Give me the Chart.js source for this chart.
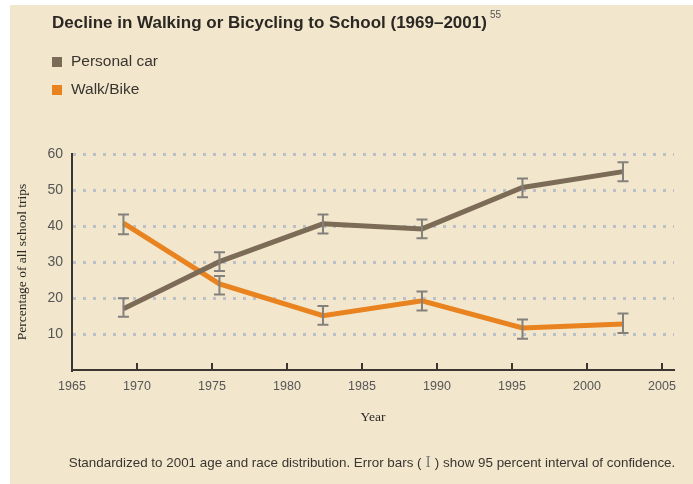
<!DOCTYPE html>
<html>
<head>
<meta charset="utf-8">
<script src="https://cdn.jsdelivr.net/npm/chart.js@4.4.1/dist/chart.umd.min.js"></script>
<style>
  html, body { margin: 0; padding: 0; background: #ffffff; }
  #wrap { width: 693px; height: 484px; }
</style>
</head>
<body>
<div id="wrap"><canvas id="line-graph" width="693" height="484"></canvas></div>
<script>
// survey years as placed on the chart
const years = [1969.1, 1975.5, 1982.4, 1989.0, 1995.7, 2002.4];

const carValues = [17.0, 30.1, 40.6, 39.2, 50.7, 55.1];
const carLow = [14.8, 27.5, 37.9, 36.6, 48.0, 52.4];
const carHigh = [19.9, 32.7, 43.2, 41.8, 53.2, 57.7];

const walkValues = [40.8, 23.9, 15.1, 19.2, 11.7, 12.8];
const walkLow = [37.7, 21.0, 12.6, 16.5, 8.7, 10.3];
const walkHigh = [43.2, 26.1, 17.8, 21.8, 14.0, 15.7];

const xTickYears = [1970, 1975, 1980, 1985, 1990, 1995, 2000, 2005];
const yTickValues = [10, 20, 30, 40, 50, 60];

const seriesNames = ['Personal car', 'Walk/Bike'];

const titleText = 'Decline in Walking or Bicycling to School (1969\u20132001)';
const noteText = 'Standardized to 2001 age and race distribution. Error bars (';
const noteText2 = ') show 95 percent interval of confidence.';

const xMin = 1965.67;
const xMax = 2005.8;

const CAR = '#7b6b57';
const WALK = '#e8831f';
const BG = '#f2e7cd';
const AXIS = '#3b3631';
const DOTS = '#b9c0c8';

const toPoints = (vals) => vals.map((v, i) => ({ x: years[i], y: v }));

const backgroundPlugin = {
  id: 'panel',
  beforeDraw(chart) {
    const ctx = chart.ctx;
    ctx.save();
    ctx.fillStyle = '#ffffff';
    ctx.fillRect(0, 0, chart.width, chart.height);
    ctx.fillStyle = BG;
    ctx.fillRect(10, 5, chart.width - 10, chart.height - 5);
    ctx.restore();
  }
};

const decorPlugin = {
  id: 'decor',
  afterDraw(chart) {
    const ctx = chart.ctx;
    const x = chart.scales.x;
    const y = chart.scales.y;
    ctx.save();

    // inward ticks on the year axis
    ctx.strokeStyle = AXIS;
    ctx.lineWidth = 2;
    xTickYears.forEach((yr) => {
      const px = Math.round(x.getPixelForValue(yr));
      ctx.beginPath();
      ctx.moveTo(px, y.bottom);
      ctx.lineTo(px, y.bottom - 7);
      ctx.stroke();
    });

    // title
    ctx.fillStyle = '#2b2723';
    ctx.textBaseline = 'middle';
    ctx.textAlign = 'left';
    ctx.font = 'bold 17px "Liberation Sans", Arial, sans-serif';
    ctx.fillText(titleText, 52, 23);
    const tw = ctx.measureText(titleText).width;
    ctx.fillStyle = '#555';
    ctx.font = '10px "Liberation Sans", Arial, sans-serif';
    ctx.fillText('55', 52 + tw + 3, 15);

    // legend
    const colors = [CAR, WALK];
    ctx.font = '15.5px "Liberation Sans", Arial, sans-serif';
    seriesNames.forEach((name, i) => {
      const cy = 62 + i * 28;
      ctx.fillStyle = colors[i];
      ctx.fillRect(52, cy - 5, 10, 10);
      ctx.fillStyle = '#3a3530';
      ctx.fillText(name, 71, cy);
    });

    // footnote
    const noteFont = '13.4px "Liberation Sans", Arial, sans-serif';
    const beamFont = '16px "Liberation Serif", serif';
    ctx.font = noteFont;
    ctx.fillStyle = '#3a3530';
    const w1 = ctx.measureText(noteText).width;
    const w2 = ctx.measureText(noteText2).width;
    ctx.font = beamFont;
    const wi = ctx.measureText(' I ').width;
    const total = w1 + wi + w2;
    const sx = 372 - total / 2;
    ctx.font = noteFont;
    ctx.fillText(noteText, sx, 463);
    ctx.font = beamFont;
    ctx.fillStyle = '#7d7d7d';
    ctx.fillText(' I ', sx + w1, 463);
    ctx.font = noteFont;
    ctx.fillStyle = '#3a3530';
    ctx.fillText(noteText2, sx + w1 + wi, 463);

    ctx.restore();
  }
};

const errorBarPlugin = {
  id: 'errorBars',
  afterDatasetsDraw(chart) {
    const ctx = chart.ctx;
    const x = chart.scales.x;
    const y = chart.scales.y;
    const sets = [[carLow, carHigh], [walkLow, walkHigh]];
    ctx.save();
    ctx.strokeStyle = '#84817d';
    ctx.lineWidth = 2;
    sets.forEach(([lo, hi]) => {
      years.forEach((yr, i) => {
        const px = x.getPixelForValue(yr);
        const top = y.getPixelForValue(hi[i]);
        const bot = y.getPixelForValue(lo[i]);
        ctx.beginPath();
        ctx.moveTo(px, top);
        ctx.lineTo(px, bot);
        ctx.moveTo(px - 5.5, top);
        ctx.lineTo(px + 5.5, top);
        ctx.moveTo(px - 5.5, bot);
        ctx.lineTo(px + 5.5, bot);
        ctx.stroke();
      });
    });
    ctx.restore();
  }
};

const ctx = document.getElementById('line-graph').getContext('2d');

const chart = new Chart(ctx, {
  type: 'line',
  data: {
    datasets: [{
      label: seriesNames[0],
      data: toPoints(carValues),
      borderColor: CAR,
      borderWidth: 5,
      pointRadius: 0,
      tension: 0,
    }, {
      label: seriesNames[1],
      data: toPoints(walkValues),
      borderColor: WALK,
      borderWidth: 5,
      pointRadius: 0,
      tension: 0,
    }]
  },
  options: {
    responsive: false,
    animation: false,
    layout: { padding: { top: 154, left: 0, right: 19, bottom: 54 } },
    plugins: {
      legend: { display: false },
      tooltip: { enabled: false },
    },
    scales: {
      x: {
        type: 'linear',
        min: xMin,
        max: xMax,
        afterFit: (scale) => { scale.height = 60; },
        afterBuildTicks: (scale) => {
          scale.ticks = [{ value: xMin }].concat(xTickYears.map((v) => ({ value: v })));
        },
        grid: { display: false, drawTicks: false },
        border: { display: true, color: AXIS, width: 2 },
        ticks: {
          autoSkip: false,
          maxRotation: 0,
          padding: 9,
          color: '#555',
          font: { family: '"Liberation Sans", Arial, sans-serif', size: 12.5 },
          callback: (v) => (v === xMin ? '1965' : String(v)),
        },
        title: {
          display: true,
          text: 'Year',
          color: '#2b2723',
          font: { family: '"Liberation Serif", serif', size: 13.5 },
          padding: { top: 0, bottom: 4 },
        },
      },
      y: {
        min: 0,
        max: 60,
        afterFit: (scale) => { scale.width = 72; },
        afterBuildTicks: (scale) => {
          scale.ticks = [{ value: 0 }].concat(yTickValues.map((v) => ({ value: v })));
        },
        grid: {
          drawTicks: false,
          lineWidth: 3,
          color: (c) => (c.tick && c.tick.value === 0 ? 'rgba(0,0,0,0)' : DOTS),
        },
        border: { display: true, color: AXIS, width: 2, dash: [3, 7] },
        ticks: {
          padding: 9,
          color: '#555',
          font: { family: '"Liberation Sans", Arial, sans-serif', size: 14 },
          callback: (v) => (v === 0 ? '' : String(v)),
        },
        title: {
          display: true,
          text: 'Percentage of all school trips',
          color: '#2b2723',
          font: { family: '"Liberation Serif", serif', size: 13.5 },
          padding: { top: 14, bottom: 0 },
        },
      },
    },
  },
  plugins: [backgroundPlugin, errorBarPlugin, decorPlugin],
});
</script>
</body>
</html>
